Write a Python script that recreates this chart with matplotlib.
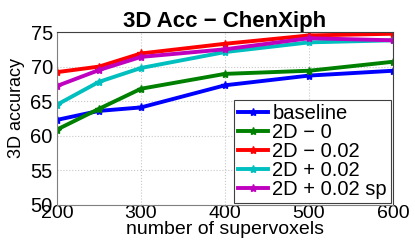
import matplotlib
matplotlib.use('Agg')
import matplotlib.pyplot as plt

plt.rcParams['font.family'] = ['Liberation Sans', 'DejaVu Sans']

# number of supervoxels
supervoxels = [200, 250, 300, 400, 500, 600]

# 3D accuracy per method
baseline = [62.3, 63.6, 64.1, 67.3, 68.7, 69.4]
d2_0 = [60.9, 63.9, 66.8, 68.95, 69.4, 70.7]
d2_minus = [69.2, 70.0, 71.9, 73.3, 74.5, 74.75]
d2_plus = [64.5, 67.8, 69.8, 72.1, 73.5, 73.8]
d2_plus_sp = [67.2, 69.5, 71.4, 72.5, 74.1, 73.8]

labels = ['baseline', '2D \u2212 0', '2D \u2212 0.02', '2D + 0.02', '2D + 0.02 sp']
colors = ['#0000ff', '#008000', '#ff0000', '#00bfbf', '#bf00bf']
series = [baseline, d2_0, d2_minus, d2_plus, d2_plus_sp]

fig = plt.figure(figsize=(4.15, 2.42), dpi=100)
ax = fig.add_axes([57 / 415, 1 - 205 / 242, 336 / 415, 173 / 242])

for vals, lab, col in zip(series, labels, colors):
    ax.plot(supervoxels, vals, color=col, linewidth=2.8, marker='*',
            markersize=6, markeredgewidth=1.0, label=lab)

ax.set_xlim(200, 600)
ax.set_ylim(50, 75)
ax.set_xticks([200, 300, 400, 500, 600])
ax.set_yticks([50, 55, 60, 65, 70, 75])
ax.tick_params(labelsize=14.5, length=0)
ax.tick_params(axis='x', labelsize=14, pad=0)
ax.tick_params(axis='y', pad=3)
ax.grid(True, linestyle=':', color='#c8c8c8', linewidth=0.8)

for s in ax.spines.values():
    s.set_color('#404040')
    s.set_linewidth(0.8)
ax.spines['left'].set_color('#808080')
ax.spines['bottom'].set_color('#808080')

ax.set_title('3D Acc \u2212 ChenXiph', fontsize=16, fontweight='bold', pad=1)
ax.set_xlabel('number of supervoxels', fontsize=14, labelpad=-1)
ax.set_ylabel('3D accuracy', fontsize=13, labelpad=0)
ax.yaxis.set_label_coords(-0.095, 0.56)

leg = ax.legend(loc='lower right', fontsize=14.5, handlelength=1.5,
                handletextpad=0.2, labelspacing=0.0, borderpad=0.2,
                borderaxespad=0.1, fancybox=False, framealpha=1,
                edgecolor='#404040')
leg.get_frame().set_linewidth(0.8)

fig.savefig('out.png', dpi=100)
